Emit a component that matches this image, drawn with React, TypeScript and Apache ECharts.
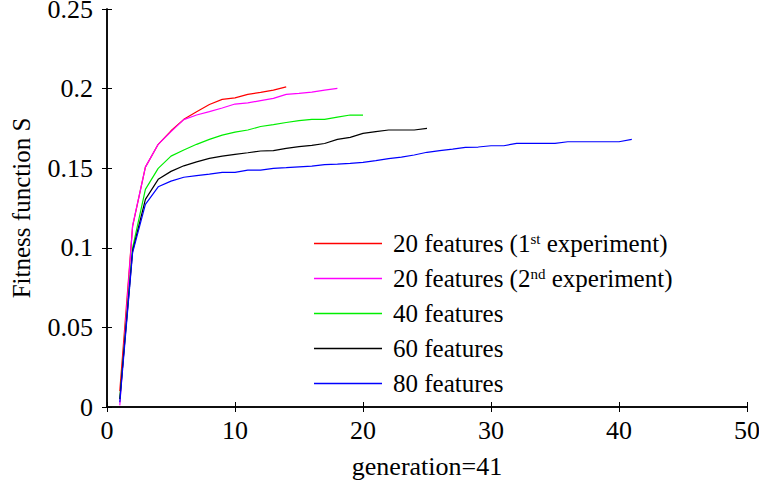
import React, { useEffect, useRef } from "react";
import * as echarts from "echarts";

const xTicks = [0, 10, 20, 30, 40, 50];
const yTicks = [0, 0.05, 0.1, 0.15, 0.2, 0.25];

const seriesNames = [
  "20 features (1st experiment)",
  "20 features (2nd experiment)",
  "40 features",
  "60 features",
  "80 features",
];
const seriesColors = ["#ff0000", "#ff00ff", "#00ee00", "#000000", "#0000ff"];

const red = [0.01, 0.1135, 0.1507, 0.165, 0.1735, 0.1807, 0.1855, 0.19, 0.1932, 0.1942, 0.1964, 0.1976, 0.199, 0.2011];
const magenta = [0.001, 0.114, 0.1507, 0.165, 0.173, 0.1805, 0.1834, 0.1855, 0.1878, 0.1903, 0.191, 0.1925, 0.1939, 0.1964, 0.197, 0.1978, 0.199, 0.2001];
const green = [0.005, 0.1, 0.1367, 0.1499, 0.1576, 0.1614, 0.165, 0.1681, 0.1708, 0.1727, 0.174, 0.1762, 0.1774, 0.1787, 0.1799, 0.1807, 0.1807, 0.1821, 0.1834, 0.1834];
const black = [0.005, 0.098, 0.1304, 0.143, 0.148, 0.1515, 0.154, 0.1562, 0.1576, 0.1587, 0.1597, 0.1608, 0.161, 0.1625, 0.1635, 0.1643, 0.1655, 0.1681, 0.1694, 0.1719, 0.173, 0.174, 0.174, 0.174, 0.175];
const blue = [0.003, 0.097, 0.1273, 0.1383, 0.1419, 0.1443, 0.1453, 0.1463, 0.1474, 0.1474, 0.1488, 0.1488, 0.1499, 0.1503, 0.1508, 0.1513, 0.1523, 0.1526, 0.153, 0.1537, 0.1548, 0.156, 0.157, 0.1583, 0.16, 0.161, 0.162, 0.1631, 0.1633, 0.1641, 0.1641, 0.1656, 0.1656, 0.1656, 0.1656, 0.1666, 0.1666, 0.1666, 0.1666, 0.1666, 0.1681];

const allValues = [red, magenta, green, black, blue];

const FONT = "Liberation Serif";

export default function App() {
  const ref = useRef<HTMLDivElement>(null);
  useEffect(() => {
    if (!ref.current) return;
    const chart = echarts.init(ref.current, null, { renderer: "svg" });
    const axisLine = { show: true, lineStyle: { color: "#000", width: 1.5 } };
    const tick = { show: true, inside: true, length: 5, lineStyle: { color: "#000", width: 1 } };
    const labelStyle = { color: "#000", fontFamily: FONT, fontSize: 26 };
    chart.setOption({
      animation: false,
      backgroundColor: "#fff",
      textStyle: { fontFamily: FONT },
      grid: { left: 107, right: 12, top: 9, bottom: 79, outerBoundsMode: "none" },
      xAxis: [
        {
          type: "value",
          min: xTicks[0],
          max: xTicks[xTicks.length - 1],
          interval: 10,
          position: "bottom",
          axisLine,
          axisTick: tick,
          splitLine: { show: false },
          axisLabel: { ...labelStyle, margin: 10 },
          name: "generation=41",
          nameLocation: "middle",
          nameGap: 46,
          nameTextStyle: labelStyle,
        },
        {
          type: "value",
          min: xTicks[0],
          max: xTicks[xTicks.length - 1],
          interval: 10,
          position: "top",
          axisLine,
          axisTick: tick,
          splitLine: { show: false },
          axisLabel: { show: false },
        },
      ],
      yAxis: [
        {
          type: "value",
          min: yTicks[0],
          max: yTicks[yTicks.length - 1],
          interval: 0.05,
          position: "left",
          axisLine,
          axisTick: tick,
          splitLine: { show: false },
          axisLabel: { ...labelStyle, margin: 14 },
          name: "Fitness function S",
          nameLocation: "middle",
          nameGap: 73,
          nameTextStyle: { ...labelStyle, fontSize: 25 },
        },
        {
          type: "value",
          min: yTicks[0],
          max: yTicks[yTicks.length - 1],
          interval: 0.05,
          position: "right",
          axisLine,
          axisTick: tick,
          splitLine: { show: false },
          axisLabel: { show: false },
        },
      ],
      legend: {
        orient: "vertical",
        left: 309,
        top: 226,
        icon: "rect",
        itemWidth: 68,
        itemHeight: 1.5,
        itemGap: 10,
        data: seriesNames,
        textStyle: {
          color: "#000",
          fontFamily: FONT,
          fontSize: 25,
          lineHeight: 25,
          padding: [0, 0, 0, 6],
          rich: {
            a: { color: "#000", fontFamily: FONT, fontSize: 25, lineHeight: 25 },
            s: { color: "#000", fontFamily: FONT, fontSize: 15, lineHeight: 25, verticalAlign: "top", padding: [0, 0, 8, 0] },
          },
        },
        formatter: (name: string) => {
          const m = name.match(/^(.*\()(\d)(st|nd)( .*)$/);
          if (m) return `{a|${m[1]}${m[2]}}{s|${m[3]}}{a|${m[4]}}`;
          return `{a|${name}}`;
        },
      },
      series: allValues.map((vals, i) => ({
        name: seriesNames[i],
        type: "line",
        xAxisIndex: 0,
        yAxisIndex: 0,
        showSymbol: false,
        symbol: "none",
        color: seriesColors[i],
        lineStyle: { width: 1.2, color: seriesColors[i] },
        data: vals.map((v, j) => [j + 1, v]),
      })),
    });
    return () => chart.dispose();
  }, []);
  return (
    <div
      ref={ref}
      style={{ position: "fixed", left: 0, top: 0, width: 759, height: 486 }}
    />
  );
}
